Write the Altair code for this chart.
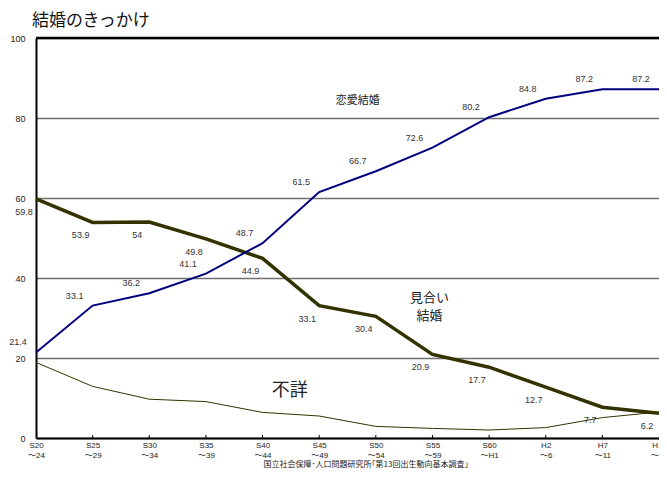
import json
import altair as alt
import pandas as pd

# ---- data -------------------------------------------------------------
periods = ["S20|～24", "S25|～29", "S30|～34", "S35|～39", "S40|～44", "S45|～49",
           "S50|～54", "S55|～59", "S60|～H1", "H2|～6", "H7|～11", "H12|～16"]
love = [21.4, 33.1, 36.2, 41.1, 48.7, 61.5, 66.7, 72.6, 80.2, 84.8, 87.2, 87.2]
arranged = [59.8, 53.9, 54.0, 49.8, 44.9, 33.1, 30.4, 20.9, 17.7, 12.7, 7.7, 6.2]
unknown = [18.9, 12.9, 9.7, 9.1, 6.4, 5.5, 2.9, 2.4, 2.0, 2.6, 5.1, 6.5]
y_ticks = [0, 20, 40, 60, 80, 100]

title_text = "結婚のきっかけ"
source_text = "国立社会保障･人口問題研究所｢第13回出生動向基本調査｣"

W, H = 623, 400
FONT = "Liberation Sans, Arial, Noto Sans CJK JP, sans-serif"
JFONT = "Noto Sans CJK JP, sans-serif"

idx = list(range(len(periods)))


def frame(values):
    return pd.DataFrame({"i": idx, "v": values, "t": [f"{v:g}" for v in values]})


df_love = frame(love)
df_arr = frame(arranged)
df_unk = frame(unknown)

label_expr = "split(" + json.dumps(periods, ensure_ascii=False) + "[datum.value], '|')"

x_enc = alt.X(
    "i:Q",
    scale=alt.Scale(domain=[0, len(periods) - 1], nice=False, zero=False),
    axis=alt.Axis(
        values=idx, labelExpr=label_expr, title=None, grid=False, ticks=False,
        domainColor="#000", domainWidth=2, labelFontSize=8, labelFont=FONT,
        labelColor="#222", labelLineHeight=10, labelPadding=3,
        labelFlush=False, labelOverlap=False,
    ),
)
y_enc = alt.Y(
    "v:Q",
    scale=alt.Scale(domain=[0, 100], nice=False),
    axis=alt.Axis(
        values=y_ticks, title=None, grid=True, gridColor="#707070", gridWidth=1.5,
        ticks=False, domainColor="#000", domainWidth=2, labelFontSize=9,
        labelFont=FONT, labelColor="#222", labelPadding=11,
    ),
)

base_love = alt.Chart(df_love)
base_arr = alt.Chart(df_arr)
base_unk = alt.Chart(df_unk)

unk_line = base_unk.mark_line(color="#333300", strokeWidth=1).encode(x=x_enc, y=y_enc)
arr_line = base_arr.mark_line(color="#333300", strokeWidth=3.5).encode(x="i:Q", y="v:Q")
love_line = base_love.mark_line(color="#000080", strokeWidth=2).encode(x="i:Q", y="v:Q")

love_lbl = base_love.mark_text(fontSize=9, font=FONT, color="#333", dx=-18, dy=-10).encode(
    x="i:Q", y="v:Q", text="t:N")
arr_lbl = base_arr.mark_text(fontSize=9, font=FONT, color="#333", dx=-12, dy=13).encode(
    x="i:Q", y="v:Q", text="t:N")

top_rule = alt.Chart(pd.DataFrame({"v": [100]})).mark_rule(color="#000", strokeWidth=2.5).encode(
    y="v:Q")

ticks = alt.Chart(pd.DataFrame({"i": idx[1:-1]})).mark_rule(color="#000", strokeWidth=1).encode(
    x="i:Q", y=alt.value(H - 3), y2=alt.value(H))

ann = alt.Chart(pd.DataFrame({"a": [0]}))
ann_love = ann.mark_text(fontSize=11, font=JFONT, color="#222").encode(
    x=alt.datum(5.68), y=alt.datum(84.3), text=alt.value("恋愛結婚"))
ann_arr = ann.mark_text(fontSize=13, font=JFONT, color="#222", lineHeight=18).encode(
    x=alt.datum(6.95), y=alt.datum(35.0), text=alt.value(["見合い", "結婚"]))
ann_unk = ann.mark_text(fontSize=18, font=JFONT, color="#222").encode(
    x=alt.datum(4.48), y=alt.datum(11.7), text=alt.value("不詳"))

title = ann.mark_text(fontSize=17, font=JFONT, color="#111", align="left", baseline="middle").encode(
    x=alt.value(-4), y=alt.value(-17), text=alt.value(title_text))
source = ann.mark_text(fontSize=8, font=JFONT, color="#222", align="center", baseline="bottom").encode(
    x=alt.value(330), y=alt.value(H + 31), text=alt.value(source_text))

chart = alt.layer(
    unk_line, top_rule, ticks, arr_line, love_line, love_lbl, arr_lbl,
    ann_love, ann_arr, ann_unk, title, source,
).properties(
    width=W, height=H,
    autosize=alt.AutoSizeParams(type="none"),
    padding={"left": 28, "top": 30, "right": 0, "bottom": 31},
).configure_view(stroke="#666", strokeWidth=1.5).configure(background="white")

chart.save("out.html", embed_options={"renderer": "svg", "actions": False})
